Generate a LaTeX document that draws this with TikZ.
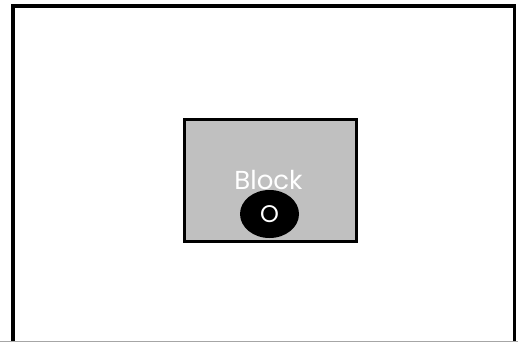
\documentclass[tikz,border=0pt]{standalone}
\usepackage{fontspec}
\setmainfont{Poppins}
\usetikzlibrary{shapes.geometric}
\begin{document}
\begin{tikzpicture}[x=1pt,y=-1pt,
  frame/.style={line width=3.5pt,black},
  blockbox/.style={draw=black,line width=3pt,fill=blockgray},
  portdot/.style={ellipse,fill=black,minimum width=59pt,minimum height=48pt,inner sep=0pt,text=white,font=\fontsize{24}{24}\selectfont},
  lbl/.style={text=white,font=\fontsize{26}{26}\selectfont}]
\definecolor{blockgray}{RGB}{192,192,192}
\useasboundingbox (0,0) rectangle (518,342);
\fill[white] (0,0) rectangle (518,342);
\coordinate (fbl) at (13,342);
\coordinate (ftl) at (13,6);
\coordinate (ftr) at (514.5,6);
\coordinate (fbr) at (514.5,342);
\draw[frame] (fbl) -- (ftl) -- (ftr) -- (fbr);
\draw[gray!70,line width=0.8pt] (0,341.5) -- (518,341.5);
\node[blockbox,minimum width=172pt,minimum height=122pt,anchor=north west] (blk) at (182.5,117.5) {};
\node[lbl] (name) at (268.5,180) {Block};
\node[portdot] (port) at (269.5,214) {O};
\end{tikzpicture}
\end{document}
